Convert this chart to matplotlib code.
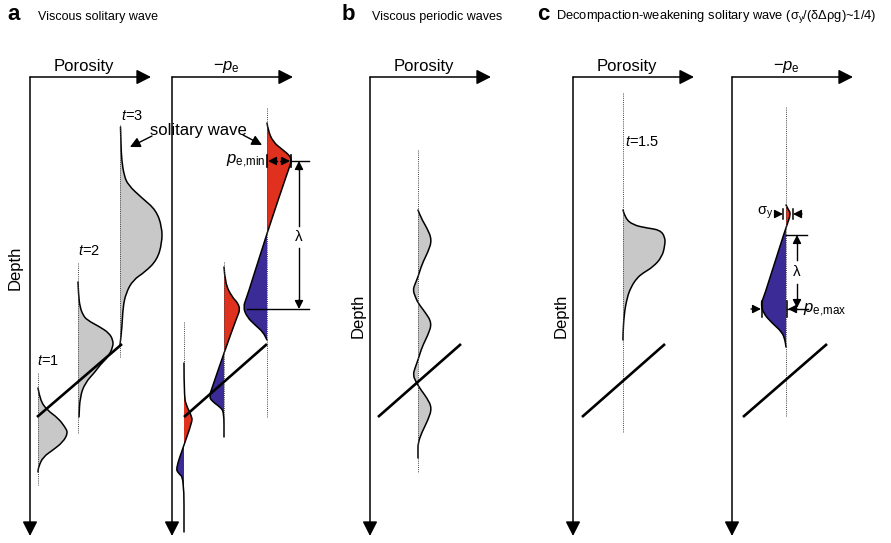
import numpy as np
import matplotlib
matplotlib.use('Agg')
import matplotlib.pyplot as plt
from matplotlib.path import Path
from matplotlib.patches import PathPatch, Rectangle

plt.rcParams['font.family'] = 'Liberation Sans'
plt.rcParams['mathtext.fontset'] = 'custom'
plt.rcParams['mathtext.rm'] = 'Liberation Sans'
plt.rcParams['mathtext.it'] = 'Liberation Sans:italic'
plt.rcParams['mathtext.bf'] = 'Liberation Sans:bold'

GREY = '#c8c8c8'
RED = '#e0301e'
BLUE = '#3a2b96'

# everything is laid out in image pixels (depth grows downwards)
axis_x0 = [30, 172, 370, 573, 732]
axis_labels = ['Porosity', '\u2212$p_\\mathrm{e}$', 'Porosity', 'Porosity', '\u2212$p_\\mathrm{e}$']
depth_label_pos = [(15, 268), (358, 316), (561, 316)]

# panel a, porosity of the solitary wave at t=1,2,3
por_a_base = [38, 78, 120]
por_a_dots = [(373, 485), (263, 433), (125, 357)]
por_t1_depth = [388, 400, 410, 418, 427, 433, 442, 450, 457, 467, 472]
por_t1_amp = [0, 2, 9, 20, 27, 30, 25, 15, 5, 0.5, 0]
por_t2_depth = [282, 295, 307, 315, 320, 327, 333, 340, 347, 357, 365, 372, 383, 397, 417]
por_t2_amp = [0, 0.5, 2, 5, 9, 22, 31, 35, 35, 30, 22, 17, 7, 2, 1]
por_t3_depth = [127, 145, 160, 175, 185, 198, 210, 227, 243, 260, 272, 280, 293, 307, 327, 345]
por_t3_amp = [0.5, 1, 1.7, 4, 8, 22, 36, 42, 42, 37, 25, 13, 6, 3, 2, 0]
t_labels_a = ['$t$=1', '$t$=2', '$t$=3']
t_label_pos_a = [(48, 361), (89, 251), (132, 116)]

# panel a, effective pressure
pe_a_base = [184, 224, 267]
pe_a_dots = [(322, 363), (262, 437), (108, 417)]
pe_t1_depth = [363, 397, 407, 417, 422, 445, 468, 473, 478, 532]
pe_t1_amp = [0, 0, 3, 8, 8, 0, -8, -6, 0, 0]
pe_t2_depth = [267, 283, 297, 303, 310, 317, 353, 388, 397, 402, 407, 412, 437]
pe_t2_amp = [0, 1, 8, 14, 16, 13, 0, -12, -15, -11, -4, 0, 0]
pe_t3_depth = [123, 130, 142, 150, 155, 160, 168, 233, 297, 307, 317, 325, 332, 340]
pe_t3_amp = [0, 1, 6, 16, 22, 25, 22, 0, -20, -24, -20, -12, -4, 0]

# panel b, periodic waves
por_b_base = 418
por_b_dots = (150, 473)
por_b_depth = [210, 218, 228, 240, 252, 264, 277, 284, 290, 296, 303, 312, 323, 335, 347,
               360, 368, 375, 382, 390, 398, 408, 420, 432, 443, 452, 458]
por_b_amp = [0, 3, 9, 14, 10, 4, 0, -3, -5, -3, 0, 7, 14, 10, 4,
             0, -3, -5, -2, 3, 9, 14, 10, 4, 0, 0, 0]

# panel c, decompaction weakening
por_c_base = 623
por_c_dots = (93, 433)
por_c_depth = [210, 218, 225, 228, 230, 237, 245, 257, 267, 273, 278, 287, 298, 315, 335, 340]
por_c_amp = [0, 2, 10, 24, 37, 42, 42, 39, 30, 20, 14, 8, 4, 1, 0, 0]
pe_c_base = 786
pe_c_dots = (107, 417)
pe_c_depth = [205, 209, 214, 227, 300, 303, 313, 323, 332, 340, 347]
pe_c_amp = [0, 2, 5, 0, -23, -25, -23, -14, -4, -1, 0]

# phase lines (wave speed)
speed_x0 = [37, 184, 378, 582, 743]
speed_x1 = [122, 267, 461, 665, 827]
speed_y = (417, 344)

fig = plt.figure(figsize=(8.91, 5.43), dpi=100)
ax = fig.add_axes([0, 0, 1, 1])
ax.set_xlim(0, 891)
ax.set_ylim(543, 0)
ax.axis('off')


def arrow(tail, tip, size=9, lw=1.0, ls='-'):
    ax.annotate('', xy=tip, xytext=tail,
                arrowprops=dict(arrowstyle='-|>,head_length=0.55,head_width=0.28',
                                mutation_scale=size, color='k', lw=lw, ls=ls,
                                shrinkA=0, shrinkB=0))


def dots(x, y0, y1):
    ax.plot([x, x], [y0, y1], color='#444444', lw=0.7, ls=(0, (1, 1.2)))


def smooth(base, depth, amp):
    # quadratic bezier chain through the read-off points (matplotlib path codes)
    pts = list(zip(base + np.array(amp, float), np.array(depth, float)))
    verts, codes = [pts[0]], [Path.MOVETO]
    for i in range(1, len(pts) - 1):
        mid = ((pts[i][0] + pts[i + 1][0]) / 2, (pts[i][1] + pts[i + 1][1]) / 2)
        verts += [pts[i], mid]
        codes += [Path.CURVE3, Path.CURVE3]
    verts.append(pts[-1])
    codes.append(Path.LINETO)
    return verts, codes


def profile(base, depth, amp, colors):
    verts, codes = smooth(base, depth, amp)
    closed = Path(verts + [(base, depth[-1]), (base, depth[0]), (base, depth[0])],
                  codes + [Path.LINETO, Path.LINETO, Path.CLOSEPOLY])
    right, left = colors
    for col, x0 in ((right, base), (left, base - 200)):
        p = PathPatch(closed, facecolor=col, edgecolor='none')
        ax.add_patch(p)
        p.set_clip_path(Rectangle((x0, 0), 200, 543, transform=ax.transData))
    ax.add_patch(PathPatch(Path(verts, codes), facecolor='none', edgecolor='k',
                           lw=1.1, capstyle='round'))


def porosity(base, depth, amp):
    profile(base, depth, amp, (GREY, GREY))


def pressure(base, depth, amp):
    profile(base, depth, amp, (RED, BLUE))


# axes
for x0, lab in zip(axis_x0, axis_labels):
    arrow((x0, 77), (x0 + 121, 77), size=16, lw=1.1)
    arrow((x0, 77), (x0, 536), size=16, lw=1.1)
    ax.text(x0 + 54, 67, lab, fontsize=12, ha='center', va='center')
for x, y in depth_label_pos:
    ax.text(x, y, 'Depth', fontsize=12, rotation=90, ha='center', va='center')

# panel titles
ax.text(7, 15, 'a', fontsize=16, fontweight='bold', va='center')
ax.text(38, 17, 'Viscous solitary wave', fontsize=9, va='center')
ax.text(342, 15, 'b', fontsize=16, fontweight='bold', va='center')
ax.text(372, 17, 'Viscous periodic waves', fontsize=9, va='center')
ax.text(537, 15, 'c', fontsize=16, fontweight='bold', va='center')
ax.text(556, 17, 'Decompaction-weakening solitary wave (\u03c3$_\\mathrm{y}$/(\u03b4\u0394\u03c1g)~1/4)',
        fontsize=9.3, va='center')

# panel a porosity
for base, (y0, y1) in zip(por_a_base, por_a_dots):
    dots(base, y0, y1)
porosity(por_a_base[0], por_t1_depth, por_t1_amp)
porosity(por_a_base[1], por_t2_depth, por_t2_amp)
porosity(por_a_base[2], por_t3_depth, por_t3_amp)
for lab, (x, y) in zip(t_labels_a, t_label_pos_a):
    ax.text(x, y, lab, fontsize=10.5, ha='center', va='center')

# panel a pressure
for base, (y0, y1) in zip(pe_a_base, pe_a_dots):
    dots(base, y0, y1)
pressure(pe_a_base[0], pe_t1_depth, pe_t1_amp)
pressure(pe_a_base[1], pe_t2_depth, pe_t2_amp)
pressure(pe_a_base[2], pe_t3_depth, pe_t3_amp)

ax.text(198, 131, 'solitary wave', fontsize=12, ha='center', va='center')
arrow((152, 136), (130, 147), size=11)
arrow((243, 135), (262, 145), size=11)

# p_e,min and lambda
ax.text(265, 161, '$p_\\mathrm{e{,}min}$', fontsize=12, ha='right', va='center')
ax.plot([267, 267], [155, 167], color='k', lw=1.2)
ax.plot([291, 291], [155, 167], color='k', lw=1.2)
ax.plot([270, 288], [161, 161], color='k', lw=1.0, ls=(0, (2, 1.5)))
arrow((276, 161), (268, 161), size=9)
arrow((282, 161), (290, 161), size=9)
ax.plot([291, 309], [161, 161], color='k', lw=1.0)
ax.plot([247, 309], [309, 309], color='k', lw=1.0)
ax.plot([299, 299], [168, 226], color='k', lw=1.0)
ax.plot([299, 299], [248, 302], color='k', lw=1.0)
arrow((299, 170), (299, 161), size=9)
arrow((299, 300), (299, 309), size=9)
ax.text(299, 237, '\u03bb', fontsize=11, ha='center', va='center')

# panel b
dots(por_b_base, *por_b_dots)
porosity(por_b_base, por_b_depth, por_b_amp)

# panel c
dots(por_c_base, *por_c_dots)
porosity(por_c_base, por_c_depth, por_c_amp)
ax.text(642, 142, '$t$=1.5', fontsize=10.5, ha='center', va='center')
dots(pe_c_base, *pe_c_dots)
pressure(pe_c_base, pe_c_depth, pe_c_amp)

ax.text(765, 213, '\u03c3$_\\mathrm{y}$', fontsize=10.5, ha='center', va='center')
ax.plot([783, 783], [209, 219], color='k', lw=1.1)
ax.plot([793, 793], [209, 219], color='k', lw=1.1)
arrow((775, 214), (783, 214), size=9)
arrow((802, 214), (793, 214), size=9)
ax.plot([786, 807], [235, 235], color='k', lw=1.0)
ax.plot([797, 797], [243, 260], color='k', lw=1.0)
ax.plot([797, 797], [284, 300], color='k', lw=1.0)
arrow((797, 243), (797, 235), size=9)
arrow((797, 300), (797, 308), size=9)
ax.text(797, 272, '\u03bb', fontsize=11, ha='center', va='center')
ax.plot([762, 762], [301, 317], color='k', lw=1.1)
ax.plot([787, 787], [301, 317], color='k', lw=1.1)
arrow((751, 309), (761, 309), size=9)
ax.plot([787, 808], [309, 309], color='k', lw=1.0)
arrow((797, 309), (788, 309), size=9)
ax.text(803, 310, '$p_\\mathrm{e{,}max}$', fontsize=12, ha='left', va='center')

# phase lines
for x0, x1 in zip(speed_x0, speed_x1):
    ax.plot([x0, x1], speed_y, color='k', lw=1.9, solid_capstyle='butt')

fig.savefig('out.png', dpi=100)
